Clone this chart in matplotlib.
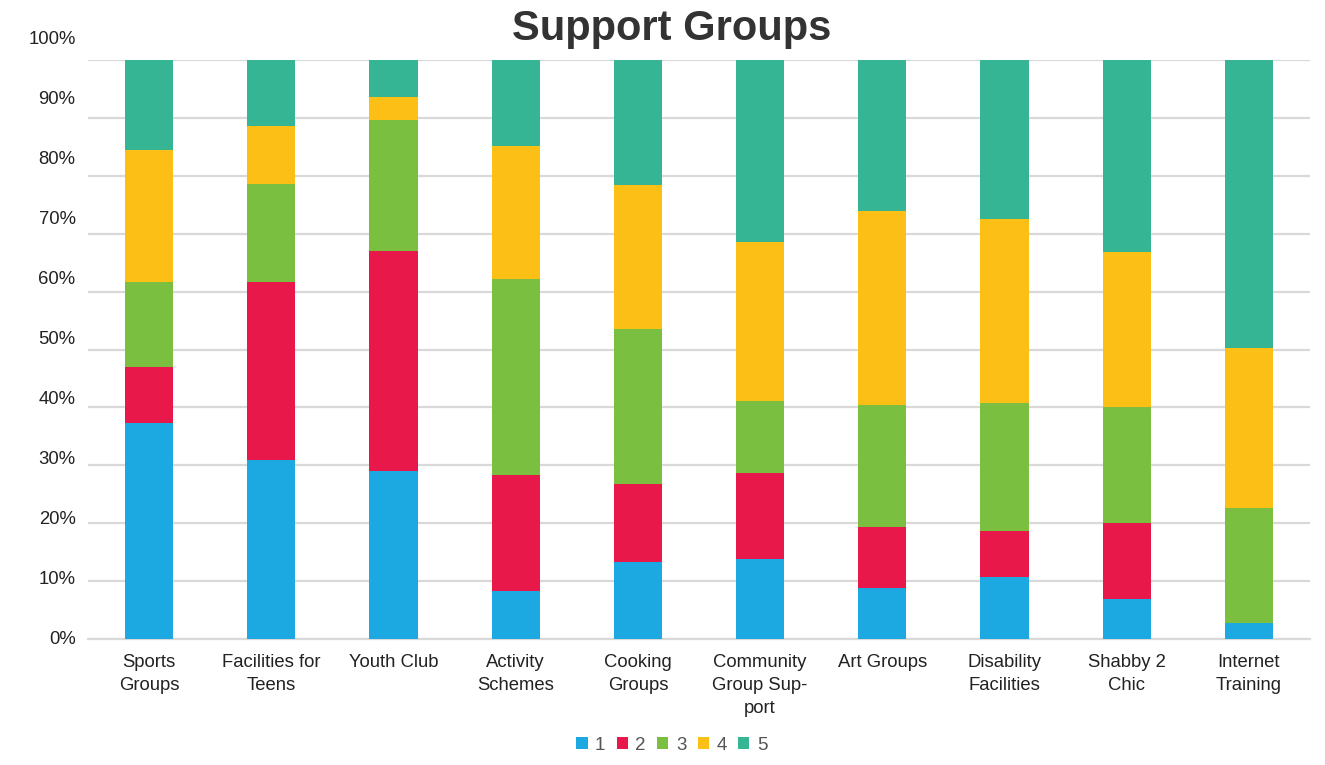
import matplotlib
matplotlib.use("Agg")
import matplotlib.pyplot as plt
import numpy as np

categories = ["Sports\nGroups", "Facilities for\nTeens", "Youth Club", "Activity\nSchemes",
              "Cooking\nGroups", "Community\nGroup Sup-\nport", "Art Groups", "Disability\nFacilities",
              "Shabby 2\nChic", "Internet\nTraining"]
series_names = ["1", "2", "3", "4", "5"]
s1 = [37.3, 30.9, 29.0, 8.3, 13.3, 13.8, 8.8, 10.7, 6.9, 2.8]
s2 = [9.7, 30.8, 38.0, 20.0, 13.5, 14.9, 10.5, 8.0, 13.1, 0.0]
s3 = [14.7, 16.9, 22.6, 33.9, 26.7, 12.4, 21.1, 22.1, 20.1, 19.8]
s4 = [22.8, 10.0, 4.0, 22.9, 24.9, 27.5, 33.5, 31.7, 26.7, 27.7]
s5 = [15.5, 11.4, 6.4, 14.9, 21.6, 31.4, 26.1, 27.5, 33.2, 49.7]
colors = ["#1ca8e0", "#e8194a", "#7bbf41", "#fbbf15", "#36b594"]
ytick_labels = ["0%", "10%", "20%", "30%", "40%", "50%", "60%", "70%", "80%", "90%", "100%"]

plt.rcParams['font.family'] = ['Liberation Sans', 'DejaVu Sans']

W, H = 1325, 765
fig = plt.figure(figsize=(13.25, 7.65), dpi=100)
left, right, top, bot = 88, 1310, 60, 639
ax = fig.add_axes([left / W, 1 - bot / H, (right - left) / W, (bot - top) / H])

data = np.array([s1, s2, s3, s4, s5])
totals = data.sum(axis=0)
pct = data / totals * 100
x = np.arange(len(categories))
bottom = np.zeros(len(categories))
for i in range(len(series_names)):
    ax.bar(x, pct[i], bottom=bottom, width=0.395, color=colors[i], label=series_names[i], zorder=3)
    bottom += pct[i]

ax.set_xticks(x)
ax.set_xticklabels(categories, linespacing=1.45)
ax.set_xlim(-0.5, len(categories) - 0.5)
ax.set_yticks(np.arange(0, 101, 10))
ax.set_yticklabels([])
ax.set_ylim(0, 100)
ax.grid(axis='y', color='#d9d9d9', linewidth=1.6, zorder=0)
ax.tick_params(axis='y', length=0)
ax.tick_params(axis='x', length=0, pad=11, labelsize=13.3, labelcolor='#222222')
for sp in ['top', 'right', 'left']:
    ax.spines[sp].set_visible(False)
ax.spines['bottom'].set_color('#d9d9d9')
ax.spines['bottom'].set_linewidth(1.6)

# y labels (slightly different spacing as in reference)
ax2 = fig.add_axes([left / W, 1 - 638 / H, (right - left) / W, (638 - 38) / H])
ax2.patch.set_visible(False)
ax2.set_yticks(np.arange(0, 101, 10))
ax2.set_yticklabels(ytick_labels)
ax2.set_ylim(0, 100)
ax2.set_xticks([])
ax2.tick_params(axis='y', length=0, pad=9, labelsize=13.3, labelcolor='#222222')
for sp in ax2.spines.values():
    sp.set_visible(False)

fig.text(0.507, 0.962, "Support Groups", ha='center', va='center', fontsize=30,
         fontweight='bold', color='#333333')

handles, labels = ax.get_legend_handles_labels()
fig.legend(handles, labels, loc='center', bbox_to_anchor=(0.507, 0.026), ncol=5, frameon=False,
           fontsize=13.5, handlelength=0.6, handleheight=0.6, handletextpad=0.4, columnspacing=0.6,
           labelcolor='#555555')

fig.savefig("out.png", dpi=100)
